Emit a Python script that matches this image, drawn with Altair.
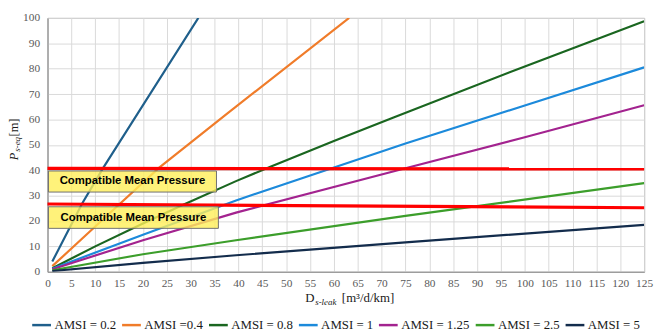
import altair as alt
import pandas as pd

# ---- data ----
series_names = ["AMSI = 0.2", "AMSI =0.4", "AMSI = 0.8", "AMSI = 1",
                "AMSI = 1.25", "AMSI = 2.5", "AMSI = 5"]
series_colors = ["#1F5F8B", "#F07C2A", "#1A6620", "#1C8ADB",
                 "#A3238F", "#3C9E2B", "#132C4C"]

amsi_02_x = [1, 7.2, 11.7, 31.6]
amsi_02_y = [4.0, 26.7, 41.0, 100]
amsi_04_x = [1, 10, 23.4, 37.5, 63.2]
amsi_04_y = [2.2, 17.8, 41.0, 62.1, 100]
amsi_08_x = [1, 10, 20, 28.2, 39.5, 46.7, 60, 72.5, 100, 125]
amsi_08_y = [1.4, 10.0, 19.0, 26.2, 35.7, 41.4, 51.5, 60.8, 80.9, 98.7]
amsi_1_x = [1, 20, 39.5, 75, 100, 125]
amsi_1_y = [1.2, 14.6, 28.1, 50.5, 65.5, 80.5]
amsi_125_x = [1, 20, 39.5, 75, 100, 125]
amsi_125_y = [1.0, 12.4, 23.3, 40.8, 53.0, 65.6]
amsi_25_x = [1, 20, 39.5, 75, 125]
amsi_25_y = [0.6, 6.9, 12.4, 22.0, 34.9]
amsi_5_x = [1, 20, 39.5, 75, 125]
amsi_5_y = [0.3, 3.5, 6.5, 11.6, 18.5]

red_x = [0, 125]
red_upper_y = [40.7, 40.5]
red_lower_y = [26.7, 25.2]

box_label = "Compatible Mean Pressure"
box_x0 = [0.2, 0.2]
box_x1 = [35.4, 35.8]
box_y0 = [31.4, 17.1]
box_y1 = [39.7, 25.6]

x_ticks = list(range(0, 126, 5))
y_ticks = list(range(0, 101, 10))

# ---- tables ----
xs = [amsi_02_x, amsi_04_x, amsi_08_x, amsi_1_x, amsi_125_x, amsi_25_x, amsi_5_x]
ys = [amsi_02_y, amsi_04_y, amsi_08_y, amsi_1_y, amsi_125_y, amsi_25_y, amsi_5_y]
rows = []
for name, sx, sy in zip(series_names, xs, ys):
    for i, (a, b) in enumerate(zip(sx, sy)):
        rows.append({"series": name, "x": a, "y": b, "order": i})
df = pd.DataFrame(rows)

red_rows = []
for k, ry in enumerate([red_upper_y, red_lower_y]):
    for i, (a, b) in enumerate(zip(red_x, ry)):
        red_rows.append({"line": k, "x": a, "y": b, "order": i})
df_red = pd.DataFrame(red_rows)

df_box = pd.DataFrame({
    "x0": box_x0, "x1": box_x1, "y0": box_y0, "y1": box_y1,
    "label": [box_label, box_label],
})
df_box["xc"] = (df_box["x0"] + df_box["x1"]) / 2
df_box["yc"] = (df_box["y0"] + df_box["y1"]) / 2

W, H = 604, 257
SERIF = "Liberation Serif"

xscale = alt.Scale(domain=[0, 125], nice=False, zero=False)
yscale = alt.Scale(domain=[0, 100], nice=False)

xaxis = alt.Axis(values=x_ticks, title=None, labelFont=SERIF, labelFontSize=11.5,
                 labelColor="#595959", labelPadding=6)
yaxis = alt.Axis(values=y_ticks, title=None, labelFont=SERIF, labelFontSize=11.5,
                 labelColor="#595959", labelPadding=8)

lines = alt.Chart(df).mark_line(strokeWidth=2.2, clip=True).encode(
    x=alt.X("x:Q", scale=xscale, axis=xaxis),
    y=alt.Y("y:Q", scale=yscale, axis=yaxis),
    color=alt.Color("series:N",
                    scale=alt.Scale(domain=series_names, range=series_colors),
                    sort=series_names,
                    legend=alt.Legend(orient="none", legendX=-17, legendY=300,
                                      direction="horizontal", title=None,
                                      symbolType="stroke", symbolSize=361,
                                      symbolStrokeWidth=2.5, labelFont=SERIF,
                                      labelFontSize=13, labelColor="#1a1a1a",
                                      labelOffset=2, columnPadding=0,
                                      padding=0)),
    detail="series:N",
    order="order:Q",
)

red = alt.Chart(df_red).mark_line(color="#FF0000", strokeWidth=3.2).encode(
    x=alt.X("x:Q", scale=xscale, axis=xaxis),
    y=alt.Y("y:Q", scale=yscale, axis=yaxis),
    detail="line:N",
    order="order:Q",
)

boxes = alt.Chart(df_box).mark_rect(fill="#FFEF59", fillOpacity=0.8,
                                    stroke="#707070", strokeWidth=1).encode(
    x=alt.X("x0:Q", scale=xscale, axis=xaxis), x2="x1:Q",
    y=alt.Y("y0:Q", scale=yscale, axis=yaxis), y2="y1:Q",
)
box_text = alt.Chart(df_box).mark_text(font="Liberation Sans", fontWeight="bold",
                                       fontSize=11.5, color="#000000").encode(
    x=alt.X("xc:Q", scale=xscale, axis=xaxis),
    y=alt.Y("yc:Q", scale=yscale, axis=yaxis),
    text="label:N",
)

def txt(s, x, y, size, style="normal", align="left", angle=0, baseline="alphabetic"):
    kw = dict(font=SERIF, fontSize=size, fontStyle=style, align=align,
              baseline=baseline, color="#1a1a1a")
    if angle:
        kw["angle"] = angle
    return alt.Chart(pd.DataFrame({"t": [s]})).mark_text(**kw).encode(
        x=alt.value(x), y=alt.value(y), text="t:N")

x_title = (txt("D", 261, 288, 13)
           + txt("s-leak", 271, 291, 9, style="italic")
           + txt("[m³/d/km]", 298, 288, 13))
y_title = (txt("P", -34, 144, 12.5, style="italic", angle=270, baseline="middle")
           + txt("s-eq", -31, 135.5, 9, style="italic", angle=270, baseline="middle")
           + txt("[m]", -34, 120, 12.5, angle=270, baseline="middle"))

chart = alt.layer(lines, red, boxes, box_text, x_title, y_title).properties(
    width=W, height=H,
    autosize=alt.AutoSizeParams(type="none"),
    padding={"left": 40, "top": 8, "right": 10, "bottom": 62},
).configure_view(
    stroke="#8C8C8C", strokeWidth=1
).configure_axis(
    grid=True, gridColor="#D9D9D9", ticks=False, labelFont=SERIF,
    labelFontSize=11.5, labelColor="#595959", domainColor="#8C8C8C",
    labelOverlap=False, labelFlush=False
)

chart.save("out.html", embed_options={"renderer": "svg", "actions": False})
